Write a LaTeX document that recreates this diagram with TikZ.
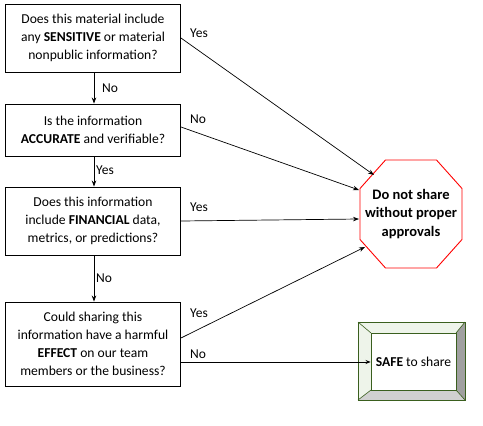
\documentclass[tikz,border=0pt]{standalone}
\usepackage{fontspec}
\setmainfont{Carlito}
\usetikzlibrary{arrows.meta,calc}
\definecolor{safegreen}{HTML}{3A5F1E}
\definecolor{bevlight}{HTML}{EEF4EA}
\definecolor{bevdark}{HTML}{A0A0A0}
\definecolor{bevbottom}{HTML}{D0D0D0}
\begin{document}
\begin{tikzpicture}[x=1pt,y=-1pt,
  font=\fontsize{13.6}{18}\selectfont,
  qbox/.style={draw,line width=0.9pt,minimum width=175pt,align=center,inner sep=0pt},
  conn/.style={line width=0.7pt,-{Stealth[length=6pt,width=4.5pt]}},
  lbl/.style={inner sep=1pt,anchor=west,font=\fontsize{13.5}{16}\selectfont}]
\useasboundingbox (0,0) rectangle (483,426);
\node[qbox,minimum height=68pt] (b1) at (93,38) {Does this material include\\any \textbf{SENSITIVE} or material\\nonpublic information?};
\node[qbox,minimum height=52pt] (b2) at (93,130) {Is the information\\\textbf{ACCURATE} and verifiable?};
\node[qbox,minimum height=68pt] (b3) at (93,221) {Does this information\\include \textbf{FINANCIAL} data,\\metrics, or predictions?};
\node[qbox,minimum height=84pt] (b4) at (93,344) {Could sharing this\\information have a harmful\\\textbf{EFFECT} on our team\\members or the business?};
% stop octagon
\node[align=center,inner sep=0pt,font=\fontsize{14.5}{18.5}\selectfont\bfseries] (stop) at (411,214) {Do not share\\without proper\\approvals};
\draw[red,line width=0.9pt] ($(stop.center)+(-25.5,-54)$) -- ($(stop.center)+(25.5,-54)$) -- ($(stop.center)+(51,-25.5)$) -- ($(stop.center)+(51,25.5)$) -- ($(stop.center)+(25.5,54)$) -- ($(stop.center)+(-25.5,54)$) -- ($(stop.center)+(-51,25.5)$) -- ($(stop.center)+(-51,-25.5)$) -- cycle;
\coordinate (t1) at ($(stop.center)+(-37,-39)$);
\coordinate (t2) at ($(stop.center)+(-52,-24)$);
\coordinate (t3) at ($(stop.center)+(-52,5)$);
\coordinate (t4) at ($(stop.center)+(-46,33)$);
% SAFE box
\coordinate (so1) at (358,322); \coordinate (so2) at (465,322); \coordinate (so3) at (465,400); \coordinate (so4) at (358,400);
\coordinate (si1) at (371,333); \coordinate (si2) at (456,333); \coordinate (si3) at (456,390); \coordinate (si4) at (371,390);
\fill[bevlight] (so1)--(so2)--(si2)--(si1)--cycle;
\fill[bevlight] (so1)--(si1)--(si4)--(so4)--cycle;
\fill[bevdark] (so2)--(so3)--(si3)--(si2)--cycle;
\fill[bevbottom] (so4)--(si4)--(si3)--(so3)--cycle;
\draw[safegreen,line width=0.9pt] (so1)--(so2)--(so3)--(so4)--cycle;
\draw[safegreen,line width=0.6pt] (so1)--(si1) (so2)--(si2) (so3)--(si3) (so4)--(si4);
\node[draw=safegreen,line width=0.9pt,fill=white,minimum width=85pt,minimum height=57pt,inner sep=0pt] (safe) at (413.5,361.5) {\textbf{SAFE} to share};
% vertical connectors
\draw[conn] (b1.south -| 94,0) -- (b2.north -| 94,0);
\draw[conn] (b2.south -| 94,0) -- (b3.north -| 94,0);
\draw[conn] (b3.south -| 94,0) -- (b4.north -| 94,0);
\node[lbl] (l1) at (101,88) {No};
\node[lbl] (l2) at (95,170) {Yes};
\node[lbl] (l3) at (95,278) {No};
% to stop
\draw[conn] (b1.east) -- (t1);
\draw[conn] ($(b2.east)+(0,-3)$) -- (t2);
\draw[conn] (b3.east) -- (t3);
\draw[conn] ($(b4.east)+(0,-6)$) -- (t4);
\node[lbl] (y1) at (189,33) {Yes};
\node[lbl] (n2) at (189,119) {No};
\node[lbl] (y3) at (189,207) {Yes};
\node[lbl] (y4) at (189,313) {Yes};
\node[lbl] (n4) at (189,354) {No};
\draw[line width=0.7pt,-{Stealth[length=5pt,width=4pt]},draw=black] ($(b4.east)+(0,18)$) -- (safe.west |- 0,362) ;
\end{tikzpicture}
\end{document}
